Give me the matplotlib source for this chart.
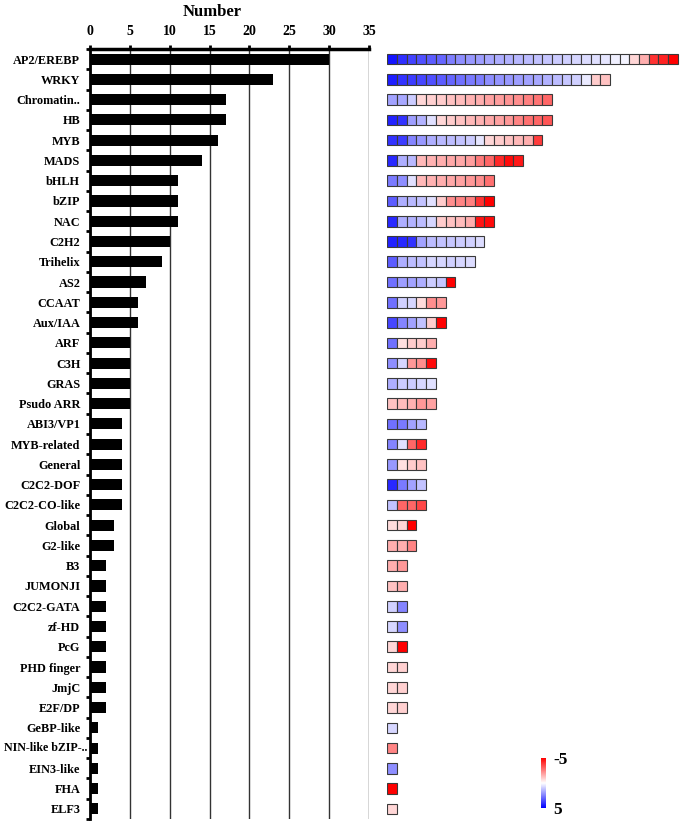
import numpy as np
import matplotlib
matplotlib.use("Agg")
import matplotlib.pyplot as plt
from matplotlib.colors import Normalize

plt.rcParams['font.family'] = ['Liberation Serif', 'DejaVu Serif']
plt.rcParams['font.weight'] = 'bold'

# families, top to bottom
families = ['AP2/EREBP', 'WRKY', 'Chromatin..', 'HB', 'MYB', 'MADS', 'bHLH',
            'bZIP', 'NAC', 'C2H2', 'Trihelix', 'AS2', 'CCAAT', 'Aux/IAA',
            'ARF', 'C3H', 'GRAS', 'Psudo ARR', 'ABI3/VP1', 'MYB-related',
            'General', 'C2C2-DOF', 'C2C2-CO-like', 'Global', 'G2-like', 'B3',
            'JUMONJI', 'C2C2-GATA', 'zf-HD', 'PcG', 'PHD finger', 'JmjC',
            'E2F/DP', 'GeBP-like', 'NIN-like bZIP-..', 'EIN3-like', 'FHA',
            'ELF3']

counts = [30, 23, 17, 17, 16, 14, 11, 11, 11, 10, 9, 7, 6, 6, 5, 5, 5, 5,
          4, 4, 4, 4, 4, 3, 3, 2, 2, 2, 2, 2, 2, 2, 2, 1, 1, 1, 1, 1]

# expression value of each gene in a family (red = -5, blue = 5)
expr = [
    [4.6, 4.1, 3.7, 3.4, 3.2, 3.0, 2.5, 2.2, 2.0, 1.9, 1.7, 1.6, 1.5, 1.4,
     1.3, 1.2, 1.1, 1.0, 0.9, 0.8, 0.7, 0.6, 0.5, 0.3, 0.2, -0.8, -1.6,
     -4.0, -4.3, -5.0],
    [4.4, 4.0, 3.8, 3.6, 3.4, 3.2, 3.0, 2.8, 2.6, 2.5, 2.2, 2.1, 2.0, 1.9,
     1.8, 1.7, 1.5, 1.3, 1.1, 0.9, 0.4, -1.0, -1.2],
    [1.8, 1.7, 1.0, -0.8, -0.9, -1.0, -1.2, -1.3, -1.5, -1.6, -1.8, -1.9,
     -2.1, -2.2, -2.5, -2.7, -3.0],
    [4.3, 4.0, 1.9, 1.5, 0.6, -0.8, -1.0, -1.2, -1.4, -1.5, -1.7, -1.8,
     -2.0, -2.4, -2.8, -3.0, -3.3],
    [4.0, 3.8, 2.4, 2.0, 1.6, 1.4, 1.3, 1.2, 1.0, 0.5, -0.8, -1.0, -1.2,
     -1.4, -1.6, -3.8],
    [4.2, 1.6, 1.4, -1.4, -1.5, -1.6, -1.7, -1.7, -1.9, -2.6, -3.0, -4.2,
     -4.8, -4.5],
    [2.6, 2.2, 0.6, -1.4, -1.5, -1.6, -1.7, -1.8, -2.0, -2.2, -2.8],
    [3.2, 1.6, 1.4, 1.2, 0.6, -1.0, -2.2, -2.4, -2.5, -4.0, -5.0],
    [4.2, 1.6, 1.5, 1.3, 0.8, -1.0, -1.2, -1.3, -1.6, -4.6, -4.8],
    [4.3, 4.2, 4.0, 1.8, 1.3, 1.2, 1.1, 1.0, 0.9, 0.7],
    [3.2, 1.6, 1.3, 1.2, 0.8, 0.8, 0.9, 0.8, 0.7],
    [2.8, 1.9, 1.8, 1.6, 1.0, 1.1, -5.0],
    [2.8, 0.9, 0.8, -0.7, -2.2, -2.0],
    [3.6, 2.4, 1.8, 1.2, -1.0, -5.0],
    [2.8, -0.6, -1.0, -1.0, -1.6],
    [2.2, 0.8, -2.0, -2.2, -4.8],
    [1.6, 1.0, 1.0, 0.8, 0.6],
    [-1.2, -1.3, -1.5, -2.0, -1.8],
    [2.8, 2.6, 1.8, 1.4],
    [2.4, 0.6, -3.0, -4.2],
    [2.0, -0.6, -1.0, -1.2],
    [4.2, 2.6, 1.8, 1.2],
    [1.2, -3.0, -3.0, -3.6],
    [-0.7, -0.8, -5.0],
    [-1.6, -1.6, -2.4],
    [-1.6, -2.0],
    [-1.2, -1.6],
    [0.9, 2.4],
    [0.8, 2.2],
    [-0.8, -5.0],
    [-0.8, -0.9],
    [-0.8, -0.9],
    [-0.8, -0.9],
    [0.8],
    [-2.4],
    [2.2],
    [-5.0],
    [-0.8],
]

x_ticks = [0, 5, 10, 15, 20, 25, 30, 35]

W, H = 680, 825
fig = plt.figure(figsize=(W / 100, H / 100), dpi=100)

y = np.arange(len(families))
top = 49
bottom = 819

# ---- bar chart ----
ax = fig.add_axes([90 / W, (H - bottom) / H, (369 - 90) / W, (bottom - top) / H])
ax.barh(y, counts, height=0.55, color='black', zorder=3)
ax.set_ylim(len(families) - 0.5, -0.5)
ax.set_xlim(0, 35)
ax.xaxis.tick_top()
ax.set_xticks(x_ticks)
ax.tick_params(axis='x', length=3, width=2, pad=5, labelsize=10)

# the long NIN-like label is written closer to the axis by hand
nin = families.index('NIN-like bZIP-..')
shown = [f if i != nin else '' for i, f in enumerate(families)]
ax.set_yticks(y)
ax.set_yticklabels(shown, fontsize=8.8)
ax.text(-0.3, nin, families[nin], ha='right', va='center', fontsize=8.6,
        fontweight='bold', clip_on=False)

ax.set_yticks(np.arange(len(families) + 1) - 0.5, minor=True)
ax.tick_params(axis='y', which='major', length=0, pad=7)
ax.tick_params(axis='y', which='minor', length=3, width=2)
ax.grid(axis='x', color='#333333', linewidth=1, zorder=0)
for s in ['right', 'bottom']:
    ax.spines[s].set_visible(False)
ax.spines['top'].set_linewidth(2.5)
ax.spines['left'].set_linewidth(2)

fig.text(212 / W, 1 - 12 / H, 'Number', ha='center', va='center',
         fontsize=12, fontweight='bold')

# ---- heatmap ----
cmap = plt.get_cmap('bwr_r')
norm = Normalize(vmin=-5, vmax=5)
hx = fig.add_axes([387 / W, (H - bottom) / H, 293 / W, (bottom - top) / H])
for i, vals in enumerate(expr):
    pos = np.arange(len(vals))
    hx.barh(np.full(len(vals), i), np.ones(len(vals)), left=pos, height=0.52,
            color=cmap(norm(np.array(vals))), edgecolor='#3a3a3a',
            linewidth=0.8)
hx.set_xlim(-0.05, 30.25)
hx.set_ylim(len(families) - 0.5, -0.5)
hx.axis('off')

# ---- colour bar ----
cax = fig.add_axes([541 / W, (H - 808) / H, 5 / W, 50 / H])
sm = plt.cm.ScalarMappable(norm=norm, cmap=cmap)
cb = fig.colorbar(sm, cax=cax, ticks=[-5, 5])
cb.outline.set_visible(False)
cax.invert_yaxis()
cax.tick_params(length=0, labelsize=12.5, pad=5)
cax.set_yticklabels(['-5', '5'])

fig.savefig('out.png', dpi=100)
